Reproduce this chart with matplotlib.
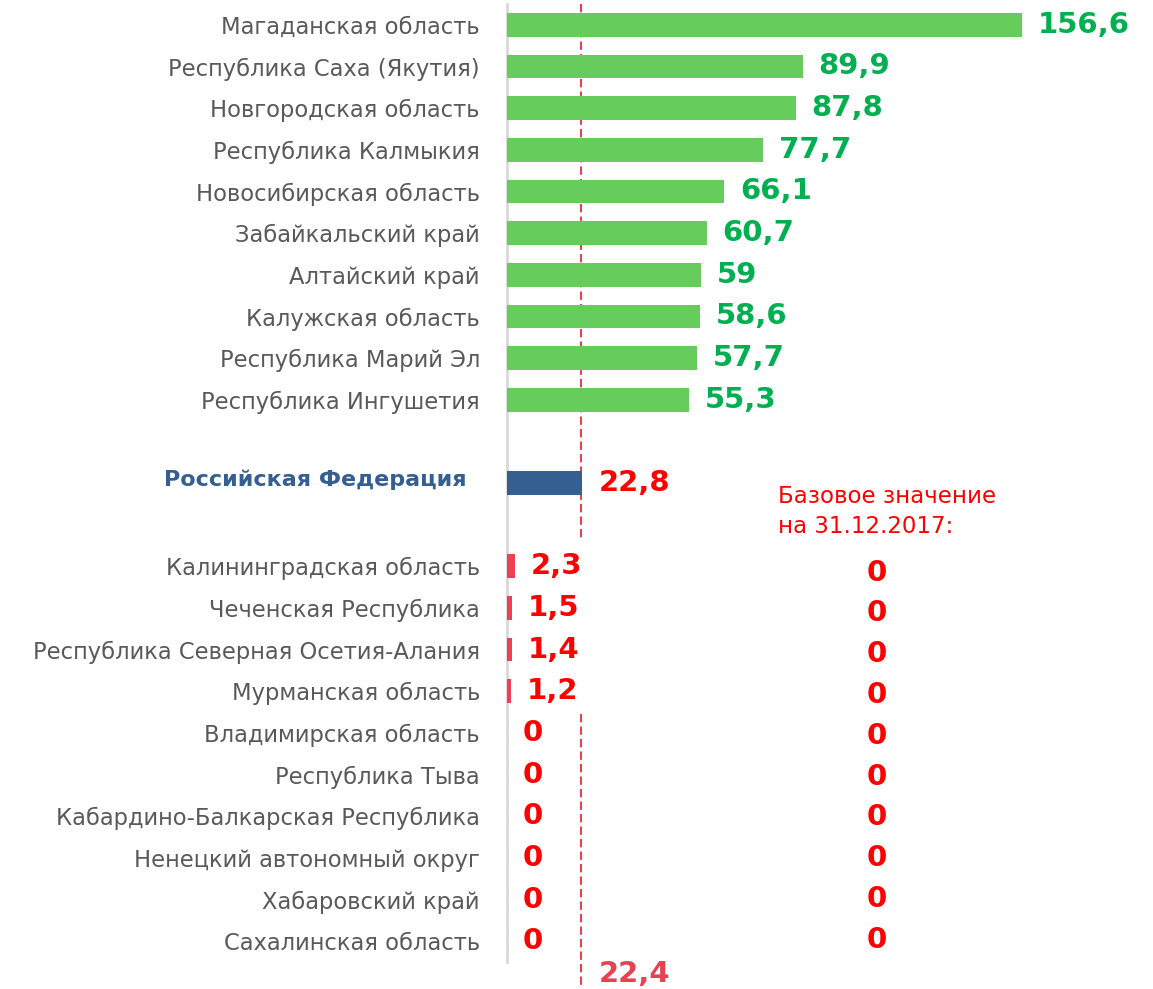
import numpy as np
import matplotlib
matplotlib.use("Agg")
import matplotlib.pyplot as plt

# Top regions
top_regions = ["Магаданская область", "Республика Саха (Якутия)", "Новгородская область",
               "Республика Калмыкия", "Новосибирская область", "Забайкальский край",
               "Алтайский край", "Калужская область", "Республика Марий Эл",
               "Республика Ингушетия"]
top_values = [156.6, 89.9, 87.8, 77.7, 66.1, 60.7, 59, 58.6, 57.7, 55.3]
top_labels = ["156,6", "89,9", "87,8", "77,7", "66,1", "60,7", "59", "58,6", "57,7", "55,3"]

# Russian Federation
rf_name = "Российская Федерация"
rf_value = 22.8
rf_label = "22,8"
rf_base = 22.4
rf_base_label = "22,4"

# Bottom regions
bottom_regions = ["Калининградская область", "Чеченская Республика",
                  "Республика Северная Осетия-Алания", "Мурманская область",
                  "Владимирская область", "Республика Тыва",
                  "Кабардино-Балкарская Республика", "Ненецкий автономный округ",
                  "Хабаровский край", "Сахалинская область"]
bottom_values = [2.3, 1.5, 1.4, 1.2, 0, 0, 0, 0, 0, 0]
bottom_labels = ["2,3", "1,5", "1,4", "1,2", "0", "0", "0", "0", "0", "0"]
base_values = [0, 0, 0, 0, 0, 0, 0, 0, 0, 0]
base_title = "Базовое значение\nна 31.12.2017:"

GREEN = "#66CC5C"
GREEN_TXT = "#00B050"
BLUE = "#355E91"
RED_BAR = "#EE4050"
RED_TXT = "#FF0000"
LINE_RED = "#E8414F"
GRAY = "#595959"

fig = plt.figure(figsize=(11.53, 9.89), dpi=100)
ax = fig.add_axes([507 / 1153, 1 - 962 / 989, 646 / 1153, 958 / 989])

top_pos = np.arange(10)
rf_pos = 11
bottom_pos = np.arange(13, 23)

h = 0.57
ax.barh(top_pos, top_values, height=h, color=GREEN, zorder=3)
ax.barh([rf_pos], [rf_value], height=h, color=BLUE, zorder=3)
ax.barh(bottom_pos, bottom_values, height=h, color=RED_BAR, zorder=3)

ax.set_xlim(0, 646 / 3.289)
ax.set_ylim(22.5, -0.5)

# dashed reference line (interrupted around the RF block)
ax.plot([rf_base, rf_base], [-0.5, 12.35], color=LINE_RED, ls=(0, (4, 2)),
        lw=1.5, zorder=1, clip_on=False)
ax.plot([rf_base, rf_base], [16.55, 23.4], color=LINE_RED, ls=(0, (4, 2)),
        lw=1.5, zorder=1, clip_on=False)

# value labels
vfs = 21
for y, v, t in zip(top_pos, top_values, top_labels):
    ax.annotate(t, (v, y), xytext=(11.5, 0), textcoords="offset points",
                ha="left", va="center", fontsize=vfs, fontweight="bold", color=GREEN_TXT)
ax.annotate(rf_label, (rf_value, rf_pos), xytext=(12, 0), textcoords="offset points",
            ha="left", va="center", fontsize=vfs, fontweight="bold", color=RED_TXT)
for y, v, t in zip(bottom_pos, bottom_values, bottom_labels):
    ax.annotate(t, (v, y), xytext=(11.5, 0), textcoords="offset points",
                ha="left", va="center", fontsize=vfs, fontweight="bold", color=RED_TXT)
ax.annotate(rf_base_label, (rf_base, 22.78), xytext=(13, 0), textcoords="offset points",
            ha="left", va="center", fontsize=vfs, fontweight="bold", color=LINE_RED,
            annotation_clip=False)

# base values column
ax.text(82.4, 11.68, base_title, ha="left", va="center", fontsize=16.5, color=RED_TXT,
        linespacing=1.4)
base_y = np.linspace(13.15, 21.97, len(base_values))
for y, v in zip(base_y, base_values):
    ax.text(112.5, y, str(v), ha="center", va="center", fontsize=vfs,
            fontweight="bold", color=RED_TXT)

# category labels
ticks = list(top_pos) + list(bottom_pos)
ax.set_yticks(ticks, top_regions + bottom_regions)
ax.tick_params(axis="y", length=0, pad=19.5, labelsize=16.3, labelcolor=GRAY)
ax.text(-12.2, rf_pos - 0.07, rf_name, ha="right", va="center", fontsize=16,
        fontweight="bold", color=BLUE)

ax.set_xticks([])
for s in ["top", "right", "bottom"]:
    ax.spines[s].set_visible(False)
ax.spines["left"].set_color("#D9D9D9")
ax.spines["left"].set_linewidth(2)

fig.savefig("out.png", dpi=100)
